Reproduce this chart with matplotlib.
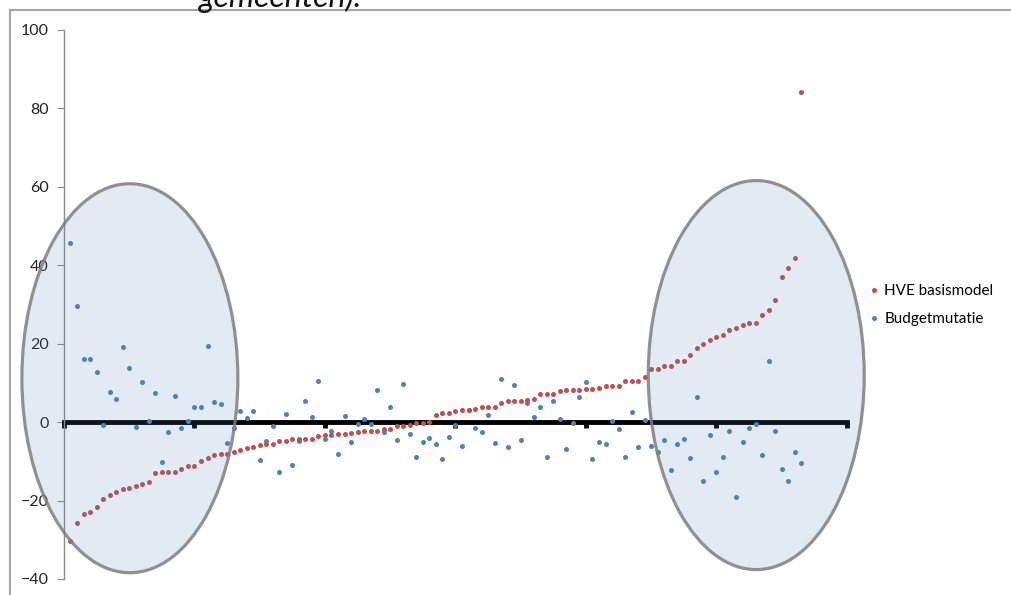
import matplotlib
matplotlib.use("Agg")
import matplotlib.pyplot as plt
from matplotlib.patches import Ellipse
from matplotlib.lines import Line2D

plt.rcParams['font.family'] = ['Lato', 'DejaVu Sans']

# HVE basismodel (sorted), one value per gemeente
hve = [-30.3, -25.7, -23.3, -22.9, -21.6, -19.6, -18.5, -17.9, -17.0, -16.8,
       -16.3, -15.7, -15.2, -13.0, -12.8, -12.8, -12.6, -11.9, -11.3, -11.1,
       -9.8, -9.1, -8.5, -8.2, -8.0, -7.6, -7.0, -6.6, -6.3, -5.8,
       -5.7, -5.7, -4.7, -4.7, -4.4, -4.4, -4.2, -4.2, -3.6, -3.4,
       -3.3, -3.1, -3.1, -2.7, -2.5, -2.2, -2.2, -2.2, -1.8, -1.8,
       -0.9, -0.9, -0.8, -0.2, -0.2, 0.1, 1.8, 2.3, 2.3, 2.8,
       3.1, 3.1, 3.4, 3.9, 3.9, 3.9, 4.9, 5.4, 5.4, 5.4,
       5.6, 6.0, 7.1, 7.1, 7.3, 7.9, 8.1, 8.1, 8.2, 8.5,
       8.5, 8.7, 9.1, 9.1, 9.3, 10.5, 10.5, 10.6, 11.6, 13.5,
       13.5, 14.2, 14.2, 15.6, 15.7, 17.1, 19.0, 19.9, 20.9, 21.7,
       22.1, 23.4, 24.1, 24.7, 25.4, 25.4, 27.3, 28.7, 31.1, 36.9,
       39.4, 41.8, 84.2]

# Budgetmutatie, same order
budget = [45.8, 29.6, 16.0, 16.0, 12.7, -0.7, 7.8, 6.0, 19.2, 13.8,
          -1.2, 10.2, 0.2, 7.4, -10.1, -2.6, 6.7, -1.5, 0.4, 3.9,
          3.9, 19.5, 5.1, 4.7, -5.3, -1.5, 2.9, 1.0, 2.9, -9.7,
          -4.7, -0.9, -12.8, 2.0, -11.0, -4.8, 5.4, 1.3, 10.5, -4.3,
          -2.3, -8.2, 1.5, -5.1, -0.5, 0.9, -0.5, 8.1, -2.6, 3.9,
          -4.6, 9.8, -3.1, -9.0, -5.1, -4.0, -5.7, -9.5, -3.7, -0.7,
          -6.1, 3.2, -1.5, -2.5, 1.7, -5.3, 10.9, -6.4, 9.4, -4.6,
          4.8, 1.3, 3.9, -9.0, 5.4, 0.9, -6.8, -0.3, 6.5, 10.3,
          -9.5, -5.1, -5.5, 0.2, -1.8, -9.0, 2.6, -6.4, 0.6, -6.0,
          -7.5, -4.6, -12.2, -5.5, -4.2, -9.2, 6.5, -15.0, -3.3, -12.6,
          -9.0, -2.2, -19.0, -5.1, -1.5, -0.5, -8.3, 15.7, -2.2, -11.9,
          -15.0, -7.7, -10.4]

x = list(range(1, len(hve) + 1))

red = '#c0504d'
blue = '#4f81bd'

fig = plt.figure(figsize=(10.12, 5.95), dpi=100)
ax = fig.add_axes([0.0632, 0.0269, 0.7737, 0.9227])

ax.scatter(x, budget, s=13, color=blue, zorder=3, linewidths=0)
ax.scatter(x, hve, s=13, color=red, zorder=3, linewidths=0)

ax.set_xlim(0, 120)
ax.set_ylim(-40, 100)
ax.set_yticks(range(-40, 101, 20))
ax.set_xticks(range(0, 121, 20))
ax.set_xticklabels([])

for s in ['top', 'right']:
    ax.spines[s].set_visible(False)
ax.spines['left'].set_color('#8c8c8c')
ax.spines['left'].set_linewidth(1.0)
ax.spines['bottom'].set_position(('data', 0))
ax.spines['bottom'].set_color('black')
ax.spines['bottom'].set_linewidth(3.5)
ax.spines['bottom'].set_zorder(2)
ax.tick_params(axis='y', length=5, color='#8c8c8c', labelsize=11.5, pad=6,
               labelcolor='#222222')
ax.tick_params(axis='x', direction='out', length=4, width=3.5, color='black')

# highlighted groups
for cx, cy in [(10.1, 11.2), (106.1, 12.0)]:
    ax.add_patch(Ellipse((cx, cy), 33.1, 99.2, facecolor=blue, alpha=0.16,
                         edgecolor='none', zorder=4, clip_on=False))
    ax.add_patch(Ellipse((cx, cy), 33.1, 99.2, facecolor='none',
                         edgecolor='#7f7f7f', linewidth=2.3, alpha=0.85,
                         zorder=5, clip_on=False))

handles = [Line2D([], [], marker='o', linestyle='', markersize=3.6,
                  markerfacecolor=red, markeredgewidth=0),
           Line2D([], [], marker='o', linestyle='', markersize=3.6,
                  markerfacecolor=blue, markeredgewidth=0)]
fig.legend(handles, ['HVE basismodel', 'Budgetmutatie'], frameon=False,
           loc='center left', bbox_to_anchor=(0.852, 0.487), fontsize=11,
           handlelength=0.5, handletextpad=0.45, labelspacing=0.9,
           borderpad=0)

# frame around the picture and cut-off caption above it
fig.add_artist(Line2D([0.0099, 0.0099], [0, 0.983], color='#a6a6a6',
                      linewidth=1.5, transform=fig.transFigure))
fig.add_artist(Line2D([0.0099, 1], [0.983, 0.983], color='#a6a6a6',
                      linewidth=1.5, transform=fig.transFigure))
fig.text(0.197, 0.988, 'gemeenten).', fontsize=23, style='italic',
         va='baseline', ha='left', color='#111111')

fig.savefig('out.png', dpi=100)
